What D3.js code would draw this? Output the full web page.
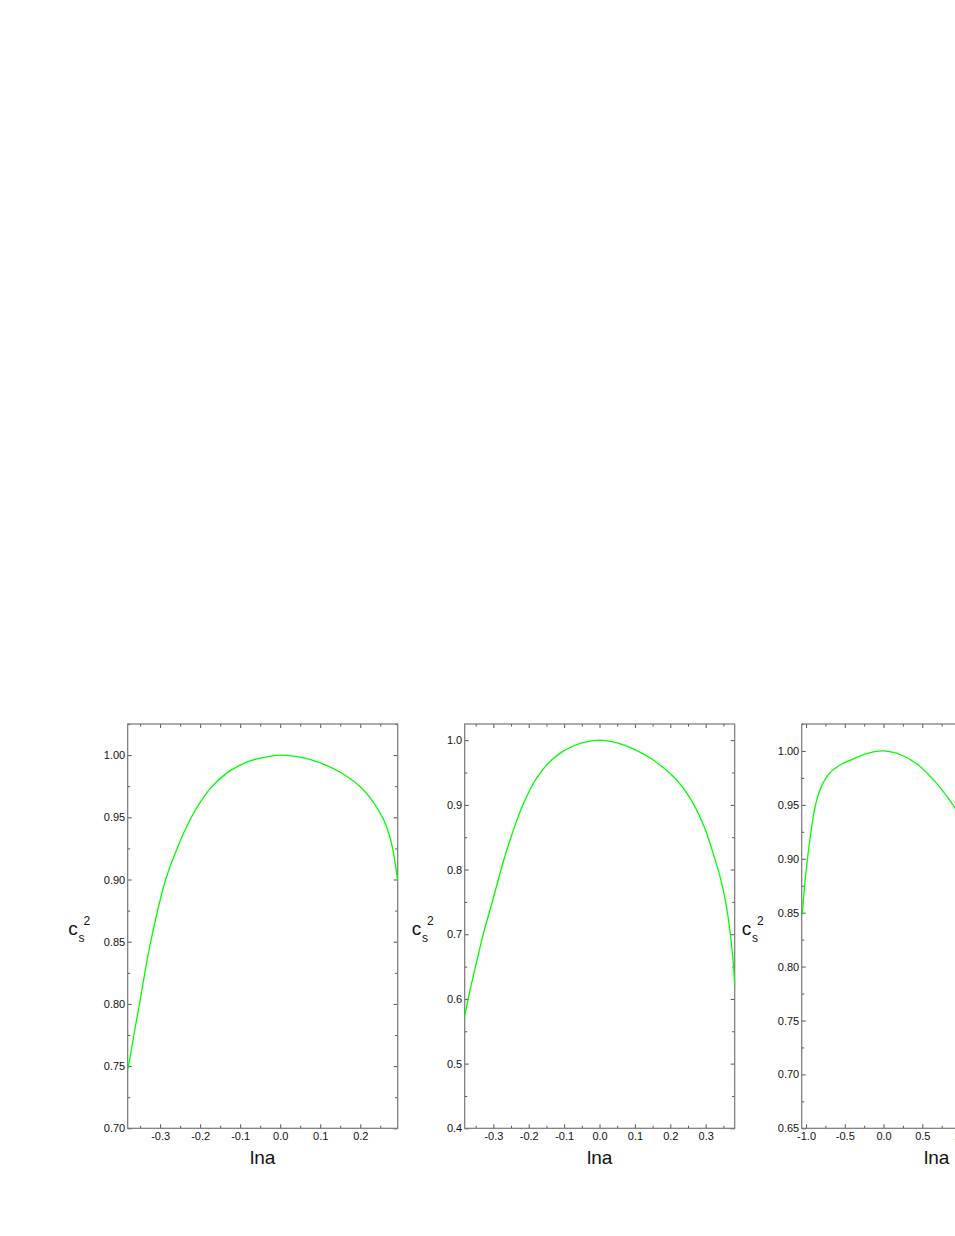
<!DOCTYPE html>
<html>
<head>
<meta charset="utf-8">
<script src="https://cdn.jsdelivr.net/npm/d3@7"></script>
<style>
  body { margin: 0; background: #fff; }
  text { font-family: "Liberation Sans", Arial, sans-serif; fill: #111; }
</style>
</head>
<body>
<script>
// panel (a)
var lnaA = [-0.380, -0.365, -0.351, -0.3235, -0.286, -0.255, -0.222, -0.200, -0.174, -0.133, -0.100, -0.075, -0.050, 0.000, 0.050, 0.100, 0.150, 0.200, 0.232, 0.257, 0.274, 0.282, 0.2875, 0.2935];
var cs2A = [0.748, 0.776, 0.801, 0.850, 0.900, 0.927, 0.950, 0.962, 0.9734, 0.9857, 0.992, 0.9953, 0.9975, 1.000, 0.9983, 0.9938, 0.9862, 0.9745, 0.9624, 0.949, 0.934, 0.923, 0.9125, 0.899];
var xTicksA = [-0.3, -0.2, -0.1, 0.0, 0.1, 0.2];
var yTicksA = [0.70, 0.75, 0.80, 0.85, 0.90, 0.95, 1.00];

// panel (b)
var lnaB = [-0.381, -0.367, -0.347, -0.329, -0.300, -0.272, -0.244, -0.215, -0.177, -0.140, -0.102, -0.083, -0.050, 0.000, 0.050, 0.100, 0.149, 0.210, 0.258, 0.2955, 0.324, 0.343, 0.357, 0.3665, 0.376, 0.382];
var cs2B = [0.573, 0.611, 0.658, 0.699, 0.756, 0.812, 0.860, 0.902, 0.942, 0.967, 0.983, 0.9887, 0.996, 1.000, 0.996, 0.9855, 0.9705, 0.943, 0.9085, 0.8665, 0.820, 0.784, 0.748, 0.714, 0.668, 0.622];
var xTicksB = [-0.3, -0.2, -0.1, 0.0, 0.1, 0.2, 0.3];
var yTicksB = [0.4, 0.5, 0.6, 0.7, 0.8, 0.9, 1.0];

// panel (c)
var lnaC = [-1.050, -1.013, -0.970, -0.926, -0.884, -0.819, -0.712, -0.583, -0.410, -0.196, 0.000, 0.235, 0.449, 0.665, 0.836, 0.950];
var cs2C = [0.848, 0.879, 0.907, 0.930, 0.948, 0.964, 0.978, 0.986, 0.992, 0.998, 1.000, 0.996, 0.987, 0.9715, 0.956, 0.944];
var xTicksC = [-1.0, -0.5, 0.0, 0.5, 1.0, 1.5, 2.0];
var yTicksC = [0.65, 0.70, 0.75, 0.80, 0.85, 0.90, 0.95, 1.00];

var width = 955,
    height = 1236;

var svg = d3.select("body").append("svg")
    .attr("width", width)
    .attr("height", height);

svg.append("rect").attr("width", width).attr("height", height).attr("fill", "#fff");

var pw = 270, ph = 404.3, plotTop = 724;

var panels = [
  { left: 127.7, xs: lnaA, ys: cs2A, xDom: [-0.381, 0.2935], yDom: [0.70, 1.025], xT: xTicksA, yT: yTicksA, xMin: 0.05, yMin: 0.025, xDec: 1, yDec: 2, titleOff: 59.4 },
  { left: 464.7, xs: lnaB, ys: cs2B, xDom: [-0.381, 0.382], yDom: [0.40, 1.025], xT: xTicksB, yT: yTicksB, xMin: 0.05, yMin: 0.05, xDec: 1, yDec: 1, titleOff: 53 },
  { left: 801.7, xs: lnaC, ys: cs2C, xDom: [-1.056, 2.428], yDom: [0.65, 1.025], xT: xTicksC, yT: yTicksC, xMin: 0.25, yMin: 0.025, xDec: 1, yDec: 2, titleOff: 60 }
];

// minor ticks between the majors, covering the whole domain
function minors(dom, step, major) {
  var out = [];
  var start = Math.ceil(dom[0] / step - 1e-6);
  var end = Math.floor(dom[1] / step + 1e-6);
  for (var k = start; k <= end; k++) {
    var v = +(k * step).toFixed(4);
    if (major.indexOf(v) < 0) out.push(v);
  }
  return out;
}

function fmt(dec) {
  return function(d) { return d.toFixed(dec); };
}

panels.forEach(function(p) {
  var g = svg.append("g").attr("transform", "translate(" + p.left + "," + plotTop + ")");

  var x = d3.scaleLinear().domain(p.xDom).range([0, pw]);
  var y = d3.scaleLinear().domain(p.yDom).range([ph, 0]);

  var xMinor = minors(p.xDom, p.xMin, p.xT);
  var yMinor = minors(p.yDom, p.yMin, p.yT);

  // bottom axis with labels
  g.append("g").attr("transform", "translate(0," + ph + ")")
    .call(d3.axisBottom(x).tickValues(p.xT).tickSizeInner(-4).tickSizeOuter(0).tickPadding(3.5).tickFormat(fmt(p.xDec)));
  g.append("g").attr("transform", "translate(0," + ph + ")")
    .call(d3.axisBottom(x).tickValues(xMinor).tickSizeInner(-2.5).tickSizeOuter(0).tickFormat(""));

  // left axis with labels
  g.append("g")
    .call(d3.axisLeft(y).tickValues(p.yT).tickSizeInner(-4).tickSizeOuter(0).tickPadding(2.5).tickFormat(fmt(p.yDec)));
  g.append("g")
    .call(d3.axisLeft(y).tickValues(yMinor).tickSizeInner(-2.5).tickSizeOuter(0).tickFormat(""));

  // top and right ticks, no labels
  g.append("g").call(d3.axisTop(x).tickValues(p.xT).tickSizeInner(-4).tickSizeOuter(0).tickFormat(""));
  g.append("g").call(d3.axisTop(x).tickValues(xMinor).tickSizeInner(-2.5).tickSizeOuter(0).tickFormat(""));
  g.append("g").attr("transform", "translate(" + pw + ",0)")
    .call(d3.axisRight(y).tickValues(p.yT).tickSizeInner(-4).tickSizeOuter(0).tickFormat(""));
  g.append("g").attr("transform", "translate(" + pw + ",0)")
    .call(d3.axisRight(y).tickValues(yMinor).tickSizeInner(-2.5).tickSizeOuter(0).tickFormat(""));

  g.selectAll(".domain").remove();
  g.selectAll(".tick line").attr("stroke", "#555").attr("stroke-width", 1);
  g.selectAll(".tick text").attr("font-size", 11).attr("fill", "#111")
    .style("font-family", "'Liberation Sans', Arial, sans-serif");

  // frame
  g.append("rect")
    .attr("width", pw)
    .attr("height", ph)
    .attr("fill", "none")
    .attr("stroke", "#777")
    .attr("stroke-width", 1.2);

  // curve
  var pts = p.xs.map(function(v, i) { return [v, p.ys[i]]; });
  var line = d3.line()
    .x(function(d) { return x(d[0]); })
    .y(function(d) { return y(d[1]); })
    .curve(d3.curveCatmullRom.alpha(0.5));

  g.append("path")
    .datum(pts)
    .attr("d", line)
    .attr("fill", "none")
    .attr("stroke", "#00ff00")
    .attr("stroke-width", 1.3);

  // x title
  g.append("text")
    .attr("x", pw / 2)
    .attr("y", 1164 - plotTop)
    .attr("text-anchor", "middle")
    .attr("font-size", 19)
    .text("lna");

  // y title c_s^2
  var tx = -p.titleOff;
  g.append("text").attr("x", tx).attr("y", 935 - plotTop).attr("font-size", 19).text("c");
  g.append("text").attr("x", tx + 10.3).attr("y", 941.5 - plotTop).attr("font-size", 12).text("s");
  g.append("text").attr("x", tx + 15.3).attr("y", 925 - plotTop).attr("font-size", 12).text("2");
});
</script>
</body>
</html>
